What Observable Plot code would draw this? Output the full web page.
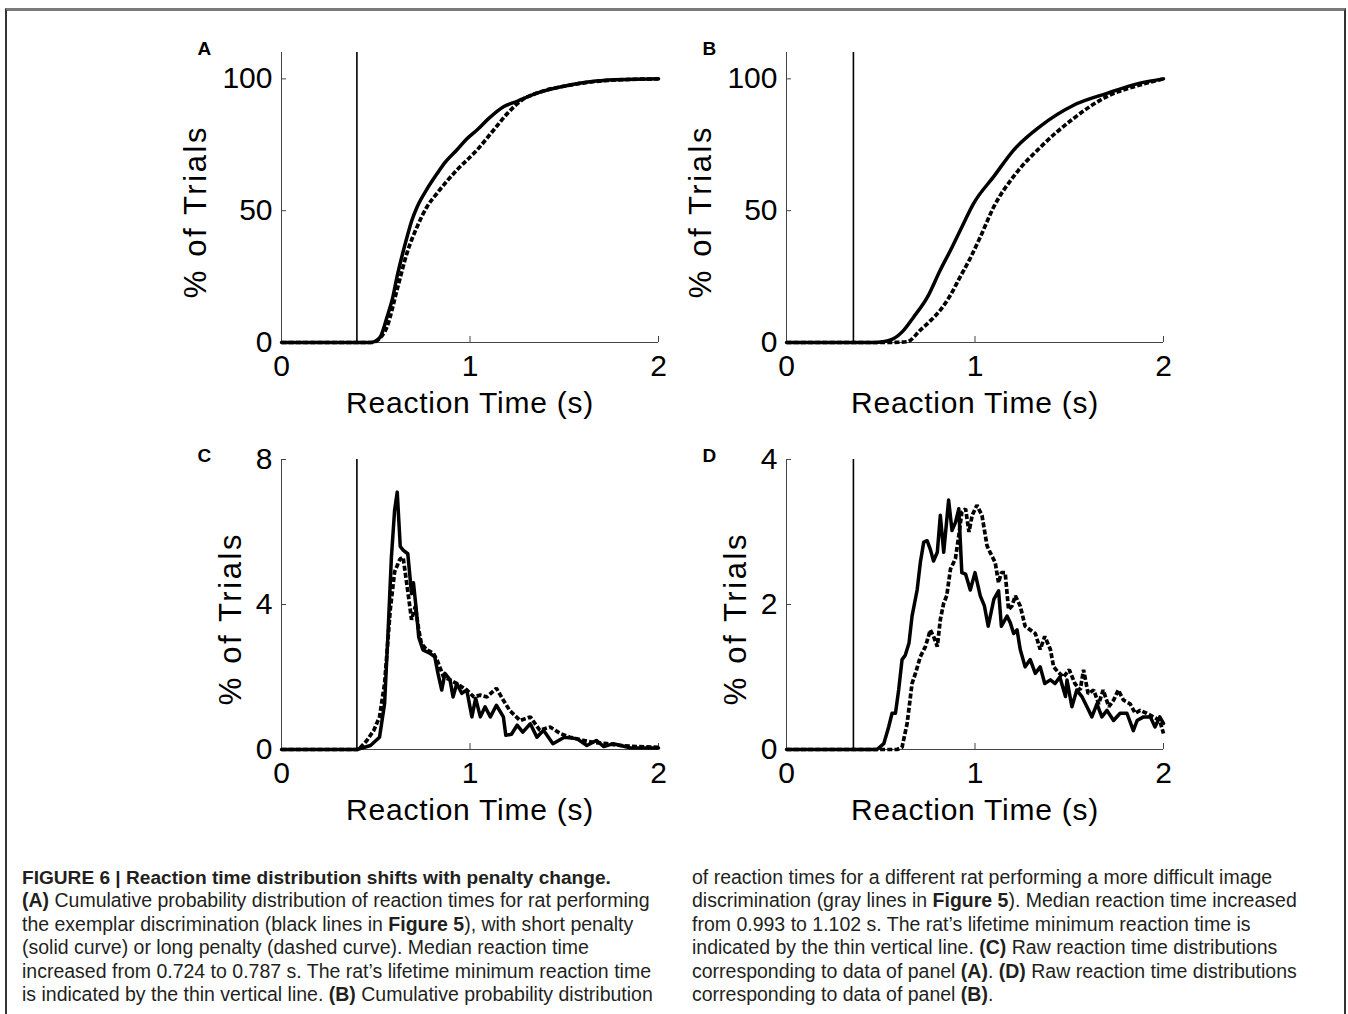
<!DOCTYPE html>
<html>
<head>
<meta charset="utf-8">
<script src="https://cdn.jsdelivr.net/npm/d3@7"></script>
<script src="https://cdn.jsdelivr.net/npm/@observablehq/plot@0.6"></script>
<style>
  body { margin: 0; background: #fff; }
  #page { position: relative; width: 1348px; height: 1014px; overflow: hidden; background: #fff;
          font-family: "Liberation Sans", Arial, sans-serif; }
  #frame { position: absolute; left: 5px; top: 8px; width: 1337px; height: 1100px;
           border-top: 3px solid #7a7a7a; border-left: 2px solid #333; border-right: 2px solid #333; }
  .panel { position: absolute; }
  .panel svg { overflow: visible; }
  .cap { position: absolute; font-family: "Liberation Sans", Arial, sans-serif;
         font-size: 19.5px; line-height: 23.4px; color: #231f20; white-space: nowrap; }
  .cap .title { font-size: 19.1px; }
  .cap b { font-weight: bold; }
</style>
</head>
<body>
<div id="page">
  <div id="frame"></div>
  <div id="pA" class="panel" style="left:160px;top:40px"></div>
  <div id="pB" class="panel" style="left:665px;top:40px"></div>
  <div id="pC" class="panel" style="left:160px;top:447px"></div>
  <div id="pD" class="panel" style="left:665px;top:447px"></div>
  <div class="cap" style="left:22px;top:866px">
    <div class="title"><b>FIGURE 6 | Reaction time distribution shifts with penalty change.</b></div>
    <div><b>(A)</b> Cumulative probability distribution of reaction times for rat performing</div>
    <div>the exemplar discrimination (black lines in <b>Figure 5</b>), with short penalty</div>
    <div>(solid curve) or long penalty (dashed curve). Median reaction time</div>
    <div>increased from 0.724 to 0.787 s. The rat’s lifetime minimum reaction time</div>
    <div>is indicated by the thin vertical line. <b>(B)</b> Cumulative probability distribution</div>
  </div>
  <div class="cap" style="left:692px;top:866px">
    <div>of reaction times for a different rat performing a more difficult image</div>
    <div>discrimination (gray lines in <b>Figure 5</b>). Median reaction time increased</div>
    <div>from 0.993 to 1.102 s. The rat’s lifetime minimum reaction time is</div>
    <div>indicated by the thin vertical line. <b>(C)</b> Raw reaction time distributions</div>
    <div>corresponding to data of panel <b>(A)</b>. <b>(D)</b> Raw reaction time distributions</div>
    <div>corresponding to data of panel <b>(B)</b>.</div>
  </div>
</div>
<script>
// ---------- data (time in s, % of trials) ----------
const panelLetters = ["A", "B", "C", "D"];
const xLabel = "Reaction Time (s)";
const yLabel = "% of Trials";
const xTicks = [0, 1, 2];
const yTicksCum = [0, 50, 100];
const yTicksC = [0, 4, 8];
const yTicksD = [0, 2, 4];
const minRT_A = 0.40;   // rat of panels A, C
const minRT_B = 0.355;  // rat of panels B, D

const cumA_short = [[0,0],[0.47,0],[0.50,0.6],[0.525,2.2],[0.56,9.7],[0.59,17],[0.613,25],[0.64,33],[0.666,40],[0.69,46],[0.72,51.5],[0.77,58],[0.825,64],[0.87,68.5],[0.93,73],[0.98,77],[1.037,80.6],[1.1,85],[1.18,89.5],[1.25,91.5],[1.355,94.6],[1.53,97.7],[1.71,99.4],[2.0,100]];
const cumA_long = [[0,0],[0.48,0],[0.52,1.5],[0.56,6],[0.613,20],[0.666,34],[0.72,44],[0.772,51.5],[0.825,56.6],[0.93,65.4],[1.037,73],[1.13,81],[1.2,87],[1.28,92.2],[1.355,94.6],[1.53,97.6],[1.71,99.3],[2.0,100]];
const cumB_short = [[0,0],[0.45,0],[0.5,0.2],[0.569,1.5],[0.62,4.5],[0.675,9.7],[0.746,17],[0.816,27.5],[0.87,35],[0.922,42.6],[0.993,52.8],[1.1,63],[1.205,73],[1.346,82],[1.523,90],[1.7,94.5],[1.876,98.4],[2.0,100]];
const cumB_long = [[0,0],[0.55,0],[0.64,0.3],[0.71,4.7],[0.76,8],[0.816,12.3],[0.87,18],[0.922,25],[0.975,32],[1.028,40],[1.1,51.5],[1.205,63],[1.346,74],[1.523,85],[1.7,93.3],[1.876,97.7],[2.0,100]];

const rawC_short = [[0,0],[0.40,0],[0.472,0.11],[0.52,0.34],[0.547,1.27],[0.565,3.2],[0.583,5.3],[0.60,6.6],[0.614,7.1],[0.63,5.6],[0.645,5.5],[0.67,5.4],[0.69,4.3],[0.70,4.6],[0.715,3.86],[0.728,3.1],[0.75,2.75],[0.786,2.66],[0.813,2.56],[0.83,2.1],[0.85,1.64],[0.867,2.1],[0.894,1.92],[0.91,1.45],[0.93,1.82],[0.956,1.55],[0.983,1.64],[1.01,0.9],[1.03,1.41],[1.055,0.9],[1.08,1.18],[1.108,0.9],[1.14,1.22],[1.177,0.9],[1.19,0.39],[1.22,0.42],[1.25,0.67],[1.28,0.48],[1.32,0.71],[1.355,0.34],[1.39,0.53],[1.44,0.16],[1.5,0.34],[1.567,0.3],[1.62,0.11],[1.67,0.25],[1.71,0.08],[1.76,0.16],[1.85,0.05],[2.0,0.04]];
const rawC_long = [[0,0],[0.41,0],[0.453,0.25],[0.49,0.53],[0.52,0.9],[0.547,1.82],[0.577,3.86],[0.60,4.9],[0.628,5.25],[0.645,5.3],[0.664,4.6],[0.69,3.58],[0.71,3.95],[0.728,3.3],[0.742,2.93],[0.77,2.75],[0.805,2.66],[0.825,2.47],[0.86,2.0],[0.894,1.92],[0.93,1.82],[0.983,1.64],[1.02,1.45],[1.055,1.5],[1.09,1.45],[1.14,1.69],[1.177,1.36],[1.21,1.08],[1.266,0.8],[1.32,0.9],[1.37,0.53],[1.425,0.62],[1.48,0.44],[1.53,0.34],[1.6,0.25],[1.655,0.2],[1.726,0.16],[1.8,0.11],[1.885,0.08],[2.0,0.06]];

const rawD_short = [[0,0],[0.48,0],[0.516,0.08],[0.542,0.31],[0.56,0.5],[0.578,0.5],[0.595,0.82],[0.613,1.24],[0.63,1.3],[0.65,1.47],[0.666,1.84],[0.693,2.2],[0.71,2.58],[0.728,2.86],[0.746,2.88],[0.763,2.76],[0.78,2.6],[0.8,2.72],[0.816,3.23],[0.834,2.72],[0.86,3.44],[0.878,3.02],[0.896,3.13],[0.914,3.32],[0.93,2.44],[0.95,2.42],[0.975,2.2],[1.0,2.44],[1.028,2.12],[1.05,1.98],[1.07,1.7],[1.1,2.07],[1.125,2.19],[1.14,1.7],[1.17,1.84],[1.187,1.75],[1.205,1.6],[1.223,1.65],[1.24,1.38],[1.266,1.14],[1.293,1.24],[1.32,1.05],[1.346,1.14],[1.37,0.91],[1.4,0.96],[1.425,0.91],[1.45,1.0],[1.48,0.73],[1.488,0.96],[1.514,0.59],[1.54,0.82],[1.567,0.73],[1.594,0.59],[1.62,0.45],[1.647,0.63],[1.673,0.45],[1.7,0.54],[1.735,0.4],[1.77,0.5],[1.806,0.5],[1.84,0.26],[1.86,0.4],[1.894,0.45],[1.93,0.45],[1.955,0.31],[1.98,0.45],[2.0,0.36]];
const rawD_long = [[0,0],[0.587,0],[0.613,0.03],[0.64,0.36],[0.666,0.91],[0.684,1.05],[0.71,1.28],[0.737,1.42],[0.763,1.65],[0.78,1.56],[0.8,1.42],[0.816,1.79],[0.834,2.02],[0.85,2.12],[0.87,2.49],[0.896,2.63],[0.914,2.95],[0.93,3.27],[0.95,3.32],[0.968,3.0],[0.985,3.23],[1.01,3.37],[1.037,3.23],[1.064,2.81],[1.08,2.72],[1.107,2.58],[1.125,2.3],[1.14,2.44],[1.16,2.44],[1.178,1.93],[1.196,1.98],[1.214,2.12],[1.24,1.98],[1.266,1.7],[1.293,1.65],[1.32,1.6],[1.346,1.38],[1.37,1.56],[1.4,1.38],[1.417,1.14],[1.44,1.07],[1.47,1.0],[1.5,1.1],[1.53,0.91],[1.558,0.82],[1.576,1.1],[1.6,0.77],[1.63,0.82],[1.656,0.63],[1.68,0.82],[1.71,0.59],[1.735,0.68],[1.76,0.82],[1.788,0.68],[1.823,0.63],[1.85,0.5],[1.876,0.54],[1.91,0.5],[1.947,0.45],[1.98,0.4],[2.0,0.22]];

// ---------- drawing ----------
const FONT = "Liberation Sans, Arial, Helvetica, sans-serif";
const fmt = d3.format("d");

function panel(el, {letter, solid, dashed, minRT, yMax, yTicks, yLabelDx, smooth}) {
  const curve = smooth ? "monotone-x" : "linear";
  const chart = Plot.plot({
    width: 520, height: 390,
    marginLeft: 121, marginRight: 22, marginTop: 12, marginBottom: 88,
    style: {fontFamily: FONT, fontSize: "30px", color: "#000", background: "transparent", overflow: "visible"},
    x: {domain: [0, 2]},
    y: {domain: [0, yMax]},
    marks: [
      Plot.ruleX([0], {stroke: "#444", strokeWidth: 1}),
      Plot.ruleY([0], {stroke: "#444", strokeWidth: 1}),
      Plot.axisX({ticks: xTicks, tickFormat: fmt, tickSize: 0, tickPadding: 12, fontSize: 30,
                  label: xLabel, labelAnchor: "center", labelOffset: 70, labelArrow: "none"}),
      Plot.axisX({ticks: xTicks, tickSize: -6, text: null, label: null, stroke: "#444"}),
      Plot.axisY({ticks: yTicks, tickFormat: fmt, tickSize: 0, tickPadding: 9, fontSize: 30, label: null}),
      Plot.axisY({ticks: yTicks, tickSize: -5, text: null, label: null, stroke: "#444"}),
      Plot.text([yLabel], {frameAnchor: "left", text: d => d, rotate: -90, dx: yLabelDx, dy: 14,
                           lineAnchor: "middle", textAnchor: "middle", fontSize: 31}),
      Plot.ruleX([minRT], {stroke: "#000", strokeWidth: 1.6}),
      Plot.line(dashed, {x: d => d[0], y: d => d[1], stroke: "#000", strokeWidth: 3.7,
                         strokeDasharray: "5,2.2", strokeLinecap: "butt", strokeLinejoin: "miter", curve}),
      Plot.line(solid, {x: d => d[0], y: d => d[1], stroke: "#000", strokeWidth: 3.5, curve}),
      Plot.text([letter], {frameAnchor: "top-left", text: d => d, dx: -84, dy: 2, textAnchor: "start",
                           lineAnchor: "bottom", fontWeight: "bold", fontSize: 19})
    ]
  });
  d3.select(chart).selectAll('g[aria-label="x-axis label"] text').attr("letter-spacing", "0.75px");
  d3.select(chart).selectAll("text").filter(function () { return this.textContent === yLabel; })
    .attr("letter-spacing", "2.6px");
  document.getElementById(el).appendChild(chart);
}

panel("pA", {letter: panelLetters[0], solid: cumA_short, dashed: cumA_long, minRT: minRT_A, yMax: 110, yTicks: yTicksCum, yLabelDx: -85, smooth: true});
panel("pB", {letter: panelLetters[1], solid: cumB_short, dashed: cumB_long, minRT: minRT_B, yMax: 110, yTicks: yTicksCum, yLabelDx: -85, smooth: true});
panel("pC", {letter: panelLetters[2], solid: rawC_short, dashed: rawC_long, minRT: minRT_A, yMax: 8, yTicks: yTicksC, yLabelDx: -50, smooth: false});
panel("pD", {letter: panelLetters[3], solid: rawD_short, dashed: rawD_long, minRT: minRT_B, yMax: 4, yTicks: yTicksD, yLabelDx: -50, smooth: false});
</script>
</body>
</html>
